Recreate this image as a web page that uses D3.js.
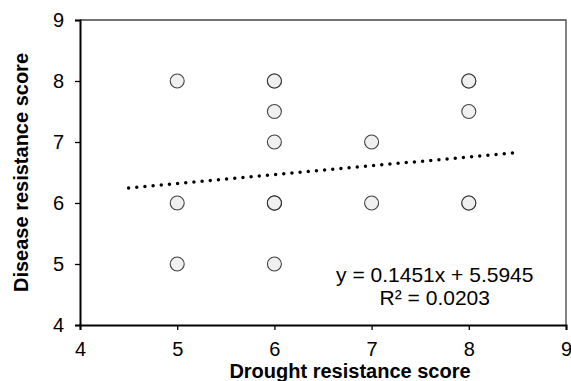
<!DOCTYPE html>
<html>
<head>
<meta charset="utf-8">
<script src="https://cdn.jsdelivr.net/npm/d3@7"></script>
<style>
  body { margin: 0; background: #fff; }
  text { font-family: "Liberation Sans", Arial, sans-serif; fill: #000; }
</style>
</head>
<body>
<div id="chart"></div>
<script>
// data: drought score (x) vs disease score (y), duplicates kept
var droughtScore = [5, 5, 5, 6, 6, 6, 6, 6, 6, 6, 6, 7, 7, 8, 8, 8, 8, 8];
var diseaseScore = [8, 6, 5, 8, 8, 7.5, 7, 6, 6, 6, 5, 7, 6, 8, 8, 7.5, 6, 6];
var xTicks = [4, 5, 6, 7, 8, 9];
var yTicks = [4, 5, 6, 7, 8, 9];
var trendSlope = 0.1451, trendIntercept = 5.5945;
var trendRange = [4.5, 8.5];
var eqLabels = ["y = 0.1451x + 5.5945", "R\u00b2 = 0.0203"];

var margin = {top: 20, right: 5, bottom: 56, left: 80};
var W = 571, H = 381;
var width = W - margin.left - margin.right,
    height = H - margin.top - margin.bottom;

var svg = d3.select("#chart").append("svg")
  .attr("width", W).attr("height", H);

var g = svg.append("g")
  .attr("transform", "translate(" + margin.left + "," + margin.top + ")");

var x = d3.scaleLinear().domain([4, 9]).range([0, width]);
var y = d3.scaleLinear().domain([4, 9]).range([height, 0]);

// frame top and right (thin)
g.append("path")
  .attr("d", "M0,0H" + width + "V" + height)
  .attr("fill", "none").attr("stroke", "#444").attr("stroke-width", 1.3);

// axes
var xAxis = d3.axisBottom(x).tickValues(xTicks).tickSize(5).tickPadding(12).tickFormat(d3.format("d"));
var yAxis = d3.axisLeft(y).tickValues(yTicks).tickSize(5).tickPadding(11).tickFormat(d3.format("d"));

var xg = g.append("g").attr("transform", "translate(0," + height + ")").call(xAxis);
var yg = g.append("g").call(yAxis);

[xg, yg].forEach(function(a) {
  a.select(".domain").attr("stroke", "#000").attr("stroke-width", 2);
  a.selectAll(".tick line").attr("stroke", "#000").attr("stroke-width", 1.3);
  a.selectAll(".tick text").style("font-size", "20px").attr("fill", "#000");
});

// trendline
var line = d3.line().x(function(d) { return x(d); })
  .y(function(d) { return y(trendSlope * d + trendIntercept); });
g.append("path").datum(trendRange)
  .attr("d", line)
  .attr("fill", "none").attr("stroke", "#000")
  .attr("stroke-width", 3.5).attr("stroke-linecap", "round")
  .attr("stroke-dasharray", "0,8.2");

// points
g.selectAll("circle.pt").data(droughtScore).enter().append("circle")
  .attr("class", "pt")
  .attr("cx", function(d) { return x(d); })
  .attr("cy", function(d, i) { return y(diseaseScore[i]); })
  .attr("r", 7)
  .attr("fill", "#f0f0f0").attr("stroke", "#222").attr("stroke-width", 1.1)
  .attr("stroke-opacity", 0.85);

// equation
g.selectAll("text.eq").data(eqLabels).enter().append("text")
  .attr("class", "eq")
  .attr("x", x(7.65))
  .attr("y", function(d, i) { return y(4.7) + i * 23; })
  .attr("text-anchor", "middle")
  .style("font-size", "21px")
  .text(function(d) { return d; });

// axis titles
svg.append("text")
  .attr("x", 350).attr("y", 378)
  .attr("text-anchor", "middle")
  .style("font-size", "20px").style("font-weight", "bold")
  .text("Drought resistance score");

svg.append("text")
  .attr("transform", "translate(28," + (margin.top + height / 2) + ") rotate(-90)")
  .attr("text-anchor", "middle")
  .style("font-size", "20px").style("font-weight", "bold")
  .text("Disease resistance score");
</script>
</body>
</html>
